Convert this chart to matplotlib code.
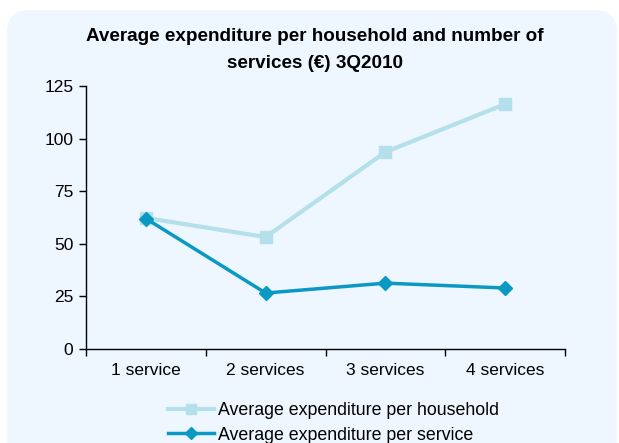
import matplotlib
matplotlib.use("Agg")
import matplotlib.pyplot as plt
from matplotlib.patches import FancyBboxPatch
from matplotlib.lines import Line2D
from matplotlib.transforms import IdentityTransform

categories = ["1 service", "2 services", "3 services", "4 services"]
household = [62.3, 53.2, 93.6, 116.4]
per_service = [62.0, 26.6, 31.3, 29.0]
yticks = [0, 25, 50, 75, 100, 125]
title = "Average expenditure per household and number of\nservices (\u20ac) 3Q2010"

plt.rcParams['font.family'] = ['Liberation Sans', 'DejaVu Sans']

c_house = '#B3E0EB'
c_serv = '#0A99C2'
bg = '#EEF6FF'

fig = plt.figure(figsize=(6.19, 4.43), dpi=100)
fig.patch.set_facecolor('white')
box = FancyBboxPatch((7, -30), 610, 463,
                     boxstyle="round,pad=0,rounding_size=22",
                     transform=IdentityTransform(), facecolor=bg, edgecolor='none',
                     zorder=-10)
fig.add_artist(box)

ax = fig.add_axes([86/619, 1-349/443, (565-86)/619, (349-86)/443])
ax.set_zorder(1)
ax.set_facecolor('none')
x = list(range(len(categories)))
ax.plot(x, household, color=c_house, lw=3, marker='s', ms=8, label='Average expenditure per household', zorder=3)
ax.plot(x, per_service, color=c_serv, lw=2.5, marker='D', ms=7, label='Average expenditure per service', zorder=4)

ax.set_xlim(-0.5, 3.5)
ax.set_ylim(0, 125)
ax.set_yticks(yticks)
ax.tick_params(axis='y', direction='out', length=5, width=1, labelsize=12.5, pad=4)
ax.set_xticks([i - 0.5 for i in range(len(categories) + 1)])
ax.set_xticklabels([])
ax.tick_params(axis='x', direction='out', length=5, width=1)
ax.set_xticks(x, minor=True)
ax.set_xticklabels(categories, minor=True, fontsize=12.5)
ax.tick_params(axis='x', which='minor', length=0, pad=10)
for s in ['top', 'right']:
    ax.spines[s].set_visible(False)
for s in ['left', 'bottom']:
    ax.spines[s].set_color('black')
    ax.spines[s].set_linewidth(1)

fig.text(315/619, 1-50/443, title, ha='center', va='center', fontsize=13.6,
         fontweight='bold', linespacing=1.7)

handles = [Line2D([], [], color=c_house, lw=3, marker='s', ms=7),
           Line2D([], [], color=c_serv, lw=2.5, marker='D', ms=6)]
fig.legend(handles, ['Average expenditure per household', 'Average expenditure per service'],
           loc='center left', bbox_to_anchor=(168/619, 1-423/443), frameon=False,
           fontsize=12.8, handlelength=2.6, handletextpad=0.2, labelspacing=0.4,
           borderaxespad=0, borderpad=0)

fig.savefig('out.png', dpi=100)
